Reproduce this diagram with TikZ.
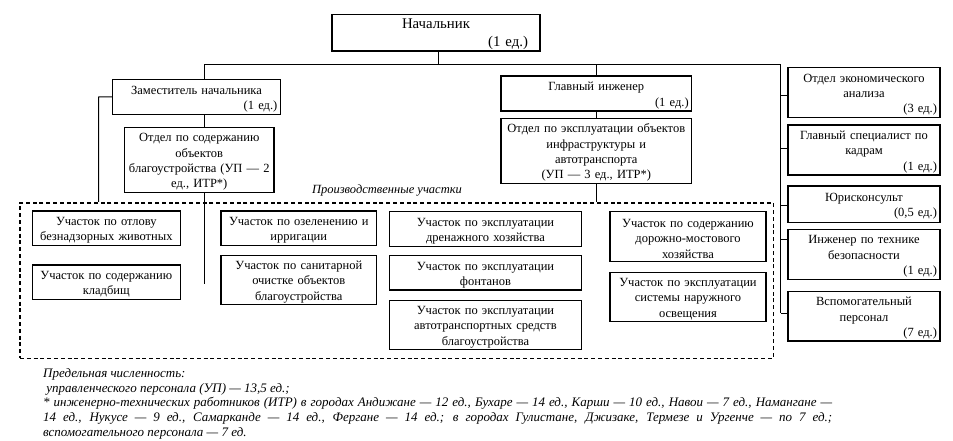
\documentclass[tikz,border=0pt]{standalone}
\usepackage{fontspec}
\setmainfont{Liberation Serif}
\newcommand\mainsz{\fontsize{12.5}{15.3}\selectfont}
\newcommand\bigsz{\fontsize{14.8}{17.7}\selectfont}
\newcommand\notesz{\fontsize{13}{14.8}\selectfont\itshape}
\newcommand\rgt{\leavevmode\hfill}
\begin{document}
\begin{tikzpicture}[x=1pt,y=-1pt,
  box/.style={draw, line width=1.2pt, inner xsep=3pt, inner ysep=0pt, align=center, font=\mainsz,
    execute at begin node={\rule{0pt}{12.5pt}}},
  link/.style={line width=1pt},
  zonebox/.style={draw, line width=1.6pt, dash pattern=on 4pt off 2.8pt},
  caption/.style={font=\mainsz\itshape, inner sep=0pt}]
\useasboundingbox (0,0) rectangle (953,441);
% top level
\node[box, font=\bigsz, inner xsep=12pt, minimum width=208pt, minimum height=36.3pt, text width=184pt] (boss) at (436,32.9) {Начальник\\ \rgt(1 ед.)};
\node[box, minimum width=167.6pt, minimum height=35pt, text width=161.6pt] (dep) at (196.5,96.8) {Заместитель начальника\\ \rgt(1 ед.)};
\node[box, minimum width=149.3pt, minimum height=65.4pt, text width=143.3pt] (dept1) at (199.3,160) {Отдел по содержанию\\ объектов\\ благоустройства (УП — 2\\ ед., ИТР*)};
\node[box, minimum width=190.7pt, minimum height=35pt, text width=184.7pt] (chief) at (596.3,93.5) {Главный инженер\\ \rgt(1 ед.)};
\node[box, minimum width=190.7pt, minimum height=65pt, text width=184.7pt] (dept2) at (596.3,150.8) {Отдел по эксплуатации объектов\\ инфраструктуры и\\ автотранспорта\\ (УП — 3 ед., ИТР*)};
% right column
\node[box, minimum width=152pt, minimum height=50pt, text width=146pt] (r1) at (864,92.7) {Отдел экономического\\ анализа\\ \rgt(3 ед.)};
\node[box, minimum width=152pt, minimum height=50pt, text width=146pt] (r2) at (864,150) {Главный специалист по\\ кадрам\\ \rgt(1 ед.)};
\node[box, minimum width=152pt, minimum height=36.3pt, text width=146pt] (r3) at (864,204.2) {Юрисконсульт\\ \rgt(0,5 ед.)};
\node[box, minimum width=152pt, minimum height=50pt, text width=146pt] (r4) at (864,254.3) {Инженер по технике\\ безопасности\\ \rgt(1 ед.)};
\node[box, minimum width=152pt, minimum height=49.3pt, text width=146pt] (r5) at (864,316.3) {Вспомогательный\\ персонал\\ \rgt(7 ед.)};
% production zone
\node[zonebox, minimum width=753.3pt, minimum height=155.6pt] (zone) at (396.65,280.5) {};
\node[caption] (zonelabel) at (387,190.7) {Производственные участки};
\node[box, minimum width=148pt, minimum height=34.7pt, text width=142pt] (a) at (106.3,228.3) {Участок по отлову\\ безнадзорных животных};
\node[box, minimum width=148pt, minimum height=34.3pt, text width=142pt] (b) at (106.3,282.2) {Участок по содержанию\\ кладбищ};
\node[box, minimum width=155.7pt, minimum height=34.7pt, text width=149.7pt] (c) at (298.8,228.3) {Участок по озеленению и\\ ирригации};
\node[box, minimum width=155.7pt, minimum height=48.6pt, text width=149.7pt] (d) at (298.8,280) {Участок по санитарной\\ очистке объектов\\ благоустройства};
\node[box, minimum width=192.4pt, minimum height=35pt, text width=186.4pt] (e) at (485.5,229.2) {Участок по эксплуатации\\ дренажного хозяйства};
\node[box, minimum width=192.4pt, minimum height=34.3pt, text width=186.4pt] (f) at (485.5,272.8) {Участок по эксплуатации\\ фонтанов};
\node[box, minimum width=192.4pt, minimum height=48.6pt, text width=186.4pt] (g) at (485.5,325) {Участок по эксплуатации\\ автотранспортных средств\\ благоустройства};
\node[box, minimum width=156pt, minimum height=50pt, text width=150pt] (h) at (688,236.7) {Участок по содержанию\\ дорожно-мостового\\ хозяйства};
\node[box, minimum width=156pt, minimum height=49.4pt, text width=150pt] (i) at (688,297) {Участок по эксплуатации\\ системы наружного\\ освещения};
% connectors
\coordinate (hl) at (204,65);
\coordinate (hr) at (780.7,65);
\coordinate (hb) at (438,65);
\coordinate (leftx) at (98.7,97);
\coordinate (d1end) at (204,284);
\coordinate (s1) at ([yshift=-3.3pt]r1.west);
\coordinate (s2) at ([yshift=1pt]r2.west);
\coordinate (s3) at ([yshift=-0.8pt]r3.west);
\coordinate (s4) at ([yshift=15pt]r4.west);
\coordinate (s5) at ([yshift=3pt]r5.west);
\draw[link] (hb |- boss.south) -- (hb);
\draw[link] (hl) -- (hr);
\draw[link] (hl) -- (hl |- dep.north);
\draw[link] (hl |- dep.south) -- (hl |- dept1.north);
\draw[link] (hl |- dept1.south) -- (d1end);
\draw[link] (dep.west) -- (leftx) -- (leftx |- zone.north);
\draw[link] (chief.north |- hr) -- (chief.north);
\draw[link] (chief.south) -- (dept2.north);
\draw[link] (dept2.south) -- (dept2.south |- zone.north);
\draw[link] (hr) -- (hr |- s5);
\draw[link] (s1) -- (hr |- s1);
\draw[link] (s2) -- (hr |- s2);
\draw[link] (s3) -- (hr |- s3);
\draw[link] (s4) -- (hr |- s4);
\draw[link] (s5) -- (hr |- s5);
% footnote
\node[font=\notesz, inner sep=0pt, align=left, anchor=north west] (note) at (43,368) {Предельная численность:\\
\ управленческого персонала (УП) — 13,5 ед.;\\
\makebox[789pt][s]{* инженерно-технических работников (ИТР) в городах Андижане — 12 ед., Бухаре — 14 ед., Карши — 10 ед., Навои — 7 ед., Намангане —}\\
\makebox[789pt][s]{14 ед., Нукусе — 9 ед., Самарканде — 14 ед., Фергане — 14 ед.; в городах Гулистане, Джизаке, Термезе и Ургенче — по 7 ед.;}\\
вспомогательного персонала — 7 ед.};
\end{tikzpicture}
\end{document}
